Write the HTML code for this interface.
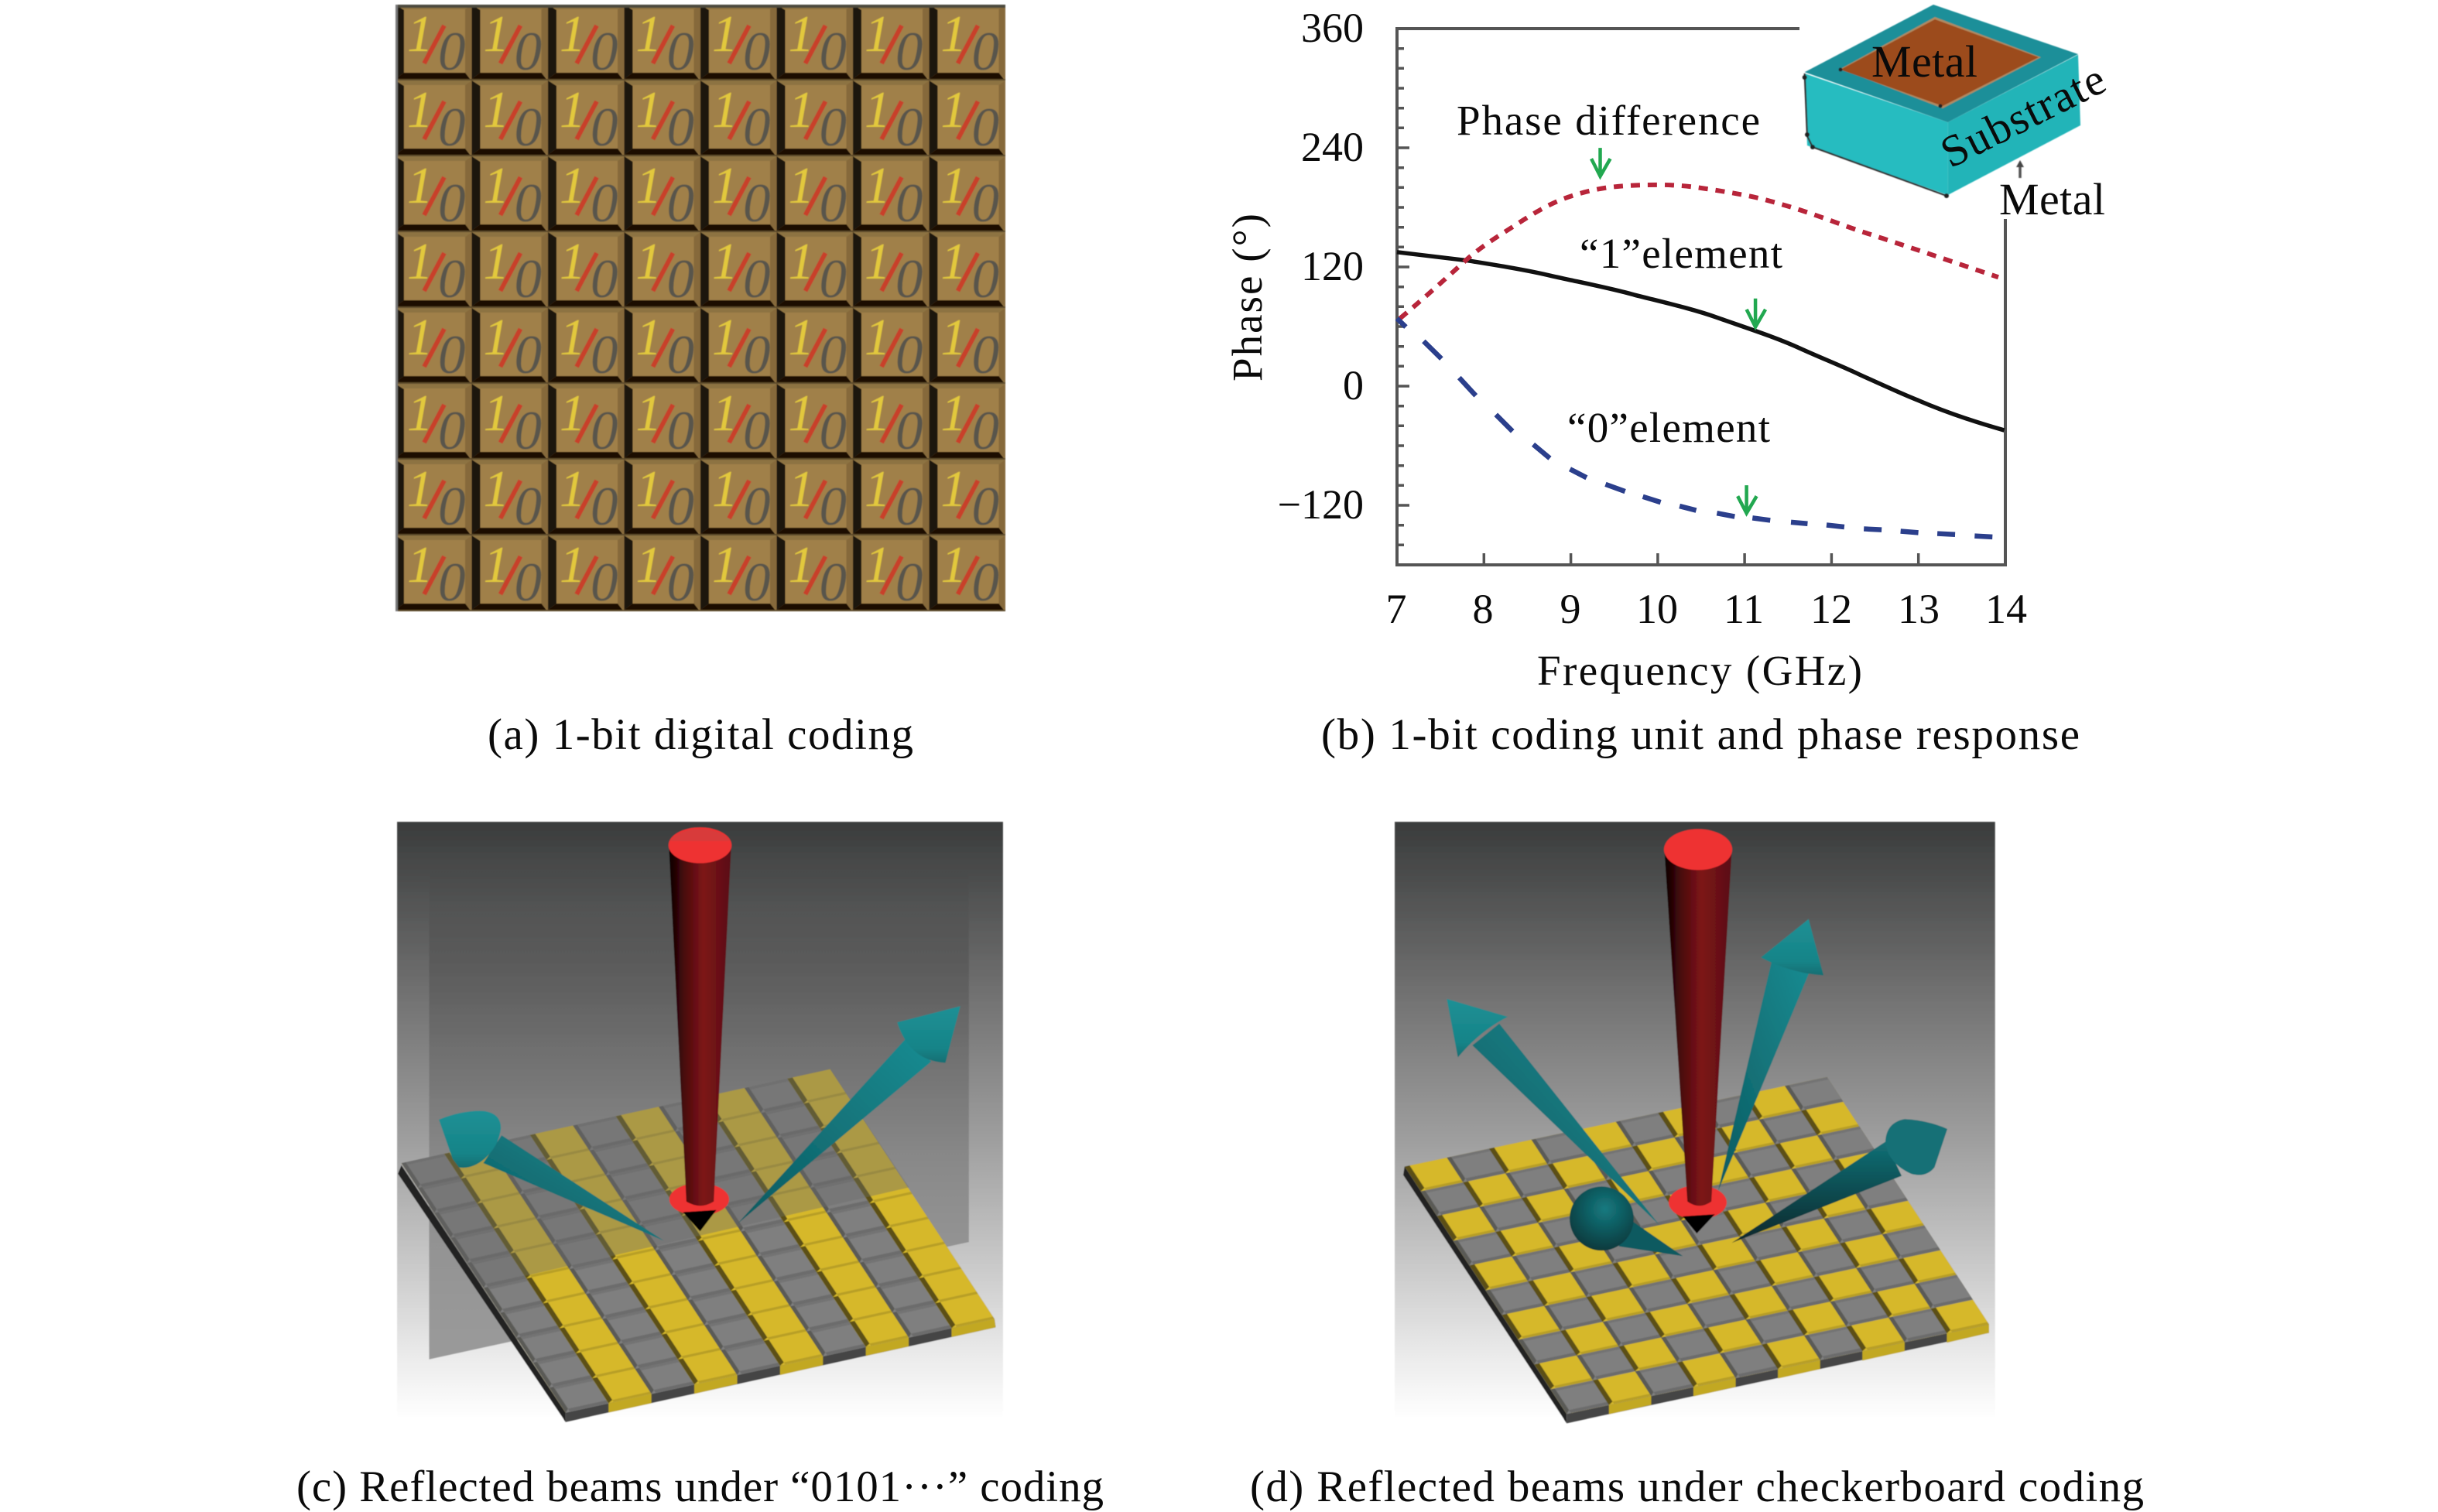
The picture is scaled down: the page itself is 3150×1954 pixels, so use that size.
<!DOCTYPE html>
<html>
<head>
<meta charset="utf-8">
<style>
html,body{margin:0;padding:0;background:#fff;}
svg{display:block;}
text{font-family:"Liberation Serif",serif;fill:#0a0a0a;}
.t{font-size:55px;}
.b{font-size:58px;}
.c{font-size:57px;}
.n{font-size:54px;text-anchor:middle;}
.e{font-size:54px;text-anchor:end;}
.ns{vector-effect:non-scaling-stroke;}
</style>
</head>
<body>
<svg xmlns="http://www.w3.org/2000/svg" width="3150" height="1954" viewBox="0 0 3150 1954">
<defs>
  <pattern id="tile" patternUnits="userSpaceOnUse" x="511" y="6" width="98.5" height="98">
    <rect width="98.5" height="98" fill="#a0804a"/>
    <polygon points="0,0 98.5,0 90,6 11,6" fill="#8d7342"/>
    <polygon points="98.5,0 90,6 90,88 98.5,97" fill="#86693a"/>
    <polygon points="0,0 11,7 11,88 0,96" fill="#1e1408"/>
    <polygon points="0,96 11,88 90,88 98,98 0,98" fill="#1a0f06"/>
    <rect x="0" y="96" width="98.5" height="2" fill="#5c4a2a"/>
    <line x1="63" y1="27" x2="37" y2="76" stroke="#c8402c" stroke-width="6"/>
  </pattern>
  <linearGradient id="bg" gradientUnits="userSpaceOnUse" x1="0" y1="40" x2="0" y2="1440">
    <stop offset="0" stop-color="#3a3c3c"/>
    <stop offset=".26" stop-color="#6c6c6c"/>
    <stop offset=".54" stop-color="#a0a0a0"/>
    <stop offset=".76" stop-color="#cdcdcd"/>
    <stop offset=".91" stop-color="#eeeeee"/>
    <stop offset="1" stop-color="#ffffff"/>
  </linearGradient>
  <linearGradient id="plane" gradientUnits="userSpaceOnUse" x1="0" y1="150" x2="0" y2="1300">
    <stop offset="0" stop-color="#333" stop-opacity="0"/>
    <stop offset=".2" stop-color="#333" stop-opacity=".25"/>
    <stop offset=".58" stop-color="#666" stop-opacity=".45"/>
    <stop offset="1" stop-color="#7a7a7a" stop-opacity=".72"/>
  </linearGradient>
  <linearGradient id="red" x1="0" y1="0" x2="1" y2="0">
    <stop offset="0" stop-color="#080000"/>
    <stop offset=".25" stop-color="#4a0a0c"/>
    <stop offset=".55" stop-color="#7d1418"/>
    <stop offset="1" stop-color="#5a0f12"/>
  </linearGradient>
  <linearGradient id="teal" x1="0" y1="1" x2="1" y2="0">
    <stop offset="0" stop-color="#0c5a60"/>
    <stop offset="1" stop-color="#1a8c92"/>
  </linearGradient>
  <linearGradient id="teal2" x1="0" y1="1" x2="0" y2="0">
    <stop offset="0" stop-color="#06262a"/>
    <stop offset="1" stop-color="#137076"/>
  </linearGradient>
  <linearGradient id="head" x1="0" y1="0" x2="0" y2="1">
    <stop offset="0" stop-color="#1c9095"/>
    <stop offset=".75" stop-color="#188488"/>
    <stop offset="1" stop-color="#136e72"/>
  </linearGradient>
  <radialGradient id="ball" cx=".55" cy=".35" r=".7">
    <stop offset="0" stop-color="#157a80"/>
    <stop offset="1" stop-color="#083538"/>
  </radialGradient>
  <g id="yc">
    <rect width="100" height="100" fill="#d6b82c"/>
    <polygon points="12,0 100,0 100,9 12,9" fill="#b89f28"/>
    <polygon points="0,0 12,9 12,100 0,100" fill="#5c5012"/>
  </g>
  <g id="gc">
    <rect width="100" height="100" fill="#7f7f7f"/>
    <polygon points="10,0 100,0 100,12 10,12" fill="#6c6c6c"/>
    <polygon points="0,0 10,12 10,100 0,100" fill="#5a5a56"/>
    <rect x="10" y="90" width="90" height="10" fill="#737373"/>
  </g>
  <pattern id="stripes" patternUnits="userSpaceOnUse" width="200" height="100" patternTransform="matrix(1.005,-.22,-.385,-.585,455,1425)">
    <use href="#gc"/><use href="#yc" x="100"/>
  </pattern>
  <pattern id="checker" patternUnits="userSpaceOnUse" width="200" height="200" patternTransform="matrix(.99,-.21,-.38,-.58,443,1428)">
    <use href="#gc"/><use href="#yc" x="100"/><use href="#yc" y="100"/><use href="#gc" x="100" y="100"/>
  </pattern>
  <filter id="soft" x="-2%" y="-2%" width="104%" height="104%"><feGaussianBlur stdDeviation="1.1"/></filter>
  <filter id="soft2" x="-2%" y="-2%" width="104%" height="104%"><feGaussianBlur stdDeviation=".6"/></filter>
</defs>

<rect width="3150" height="1954" fill="#fff"/>

<!-- Panel a -->
<g filter="url(#soft2)">
  <rect x="511" y="6" width="788" height="784" fill="url(#tile)"/>
  <rect x="511" y="6" width="788" height="4" fill="#4c4a3c"/>
  <rect x="511" y="6" width="3" height="784" fill="#777"/>
  <g style="font-style:italic;font-size:67px">
    <text style="fill:#e2c83c" x="526 624.5 723 821.5 920 1018.5 1117 1215.5" y="66">11111111</text>
    <text style="fill:#e2c83c" x="526 624.5 723 821.5 920 1018.5 1117 1215.5" y="164">11111111</text>
    <text style="fill:#e2c83c" x="526 624.5 723 821.5 920 1018.5 1117 1215.5" y="262">11111111</text>
    <text style="fill:#e2c83c" x="526 624.5 723 821.5 920 1018.5 1117 1215.5" y="360">11111111</text>
    <text style="fill:#e2c83c" x="526 624.5 723 821.5 920 1018.5 1117 1215.5" y="458">11111111</text>
    <text style="fill:#e2c83c" x="526 624.5 723 821.5 920 1018.5 1117 1215.5" y="556">11111111</text>
    <text style="fill:#e2c83c" x="526 624.5 723 821.5 920 1018.5 1117 1215.5" y="654">11111111</text>
    <text style="fill:#e2c83c" x="526 624.5 723 821.5 920 1018.5 1117 1215.5" y="752">11111111</text>
  </g>
  <g style="font-style:italic;font-size:71px">
    <text style="fill:#58544c" x="566 664.5 763 861.5 960 1058.5 1157 1255.5" y="90">00000000</text>
    <text style="fill:#58544c" x="566 664.5 763 861.5 960 1058.5 1157 1255.5" y="188">00000000</text>
    <text style="fill:#58544c" x="566 664.5 763 861.5 960 1058.5 1157 1255.5" y="286">00000000</text>
    <text style="fill:#58544c" x="566 664.5 763 861.5 960 1058.5 1157 1255.5" y="384">00000000</text>
    <text style="fill:#58544c" x="566 664.5 763 861.5 960 1058.5 1157 1255.5" y="482">00000000</text>
    <text style="fill:#58544c" x="566 664.5 763 861.5 960 1058.5 1157 1255.5" y="580">00000000</text>
    <text style="fill:#58544c" x="566 664.5 763 861.5 960 1058.5 1157 1255.5" y="678">00000000</text>
    <text style="fill:#58544c" x="566 664.5 763 861.5 960 1058.5 1157 1255.5" y="776">00000000</text>
  </g>
</g>

<!-- Panel b: axes -->
<g fill="none" stroke="#555" stroke-width="4">
  <path d="M2325,37 H1805 V730 H2591 V283"/>
  <path stroke-width="3.5" d="M1805,62.7h9M1805,88.3h9M1805,114h9M1805,139.7h9M1805,165.3h9M1805,216.7h9M1805,242.3h9M1805,268h9M1805,293.7h9M1805,319.3h9M1805,370.7h9M1805,396.3h9M1805,422h9M1805,447.7h9M1805,473.3h9M1805,524.7h9M1805,550.3h9M1805,576h9M1805,601.7h9M1805,627.3h9M1805,678.7h9M1805,704.3h9"/>
  <path stroke-width="3.5" d="M1805,191h16M1805,345h16M1805,499h16M1805,653h16M1917.3,730v-15M2029.6,730v-15M2141.9,730v-15M2254.1,730v-15M2366.4,730v-15M2478.7,730v-15"/>
</g>
<!-- curves in zoom coordinates -->
<g transform="translate(1560,0) scale(.7655,.6124)" fill="none">
  <path class="ns" stroke="#111" stroke-width="5.5" d="M320,532 C360,538 400,544 440,550 C490,560 540,570 580,582 C630,596 680,608 720,622 C770,638 820,652 860,670 C910,692 960,712 1000,735 C1035,755 1070,772 1100,790 C1135,810 1170,830 1200,845 C1250,872 1300,892 1345,908"/>
  <path class="ns" stroke="#b8253a" stroke-width="6" stroke-dasharray="12 10" d="M325,672 C365,630 405,585 440,545 C465,518 495,495 520,475 C548,452 575,432 600,420 C625,408 655,399 680,395 C710,391 735,390 760,390 C790,390 815,393 840,398 C868,403 895,409 920,415 C948,423 975,433 1000,443 C1035,457 1068,473 1100,487 C1133,500 1168,515 1200,528 C1245,547 1290,566 1335,585"/>
  <path class="ns" stroke="#2b3f8c" stroke-width="6.5" d="M320,672L335,690M365,720L395,757M425,797L453,835M487,875L515,910M550,938L578,967M612,990L640,1008M672,1022L705,1037M735,1048L765,1060M797,1068L825,1077M860,1083L890,1090M920,1093L950,1098M985,1102L1013,1105M1045,1108L1075,1112M1108,1116L1138,1118M1170,1121L1200,1124M1232,1126L1262,1128M1295,1131L1325,1133"/>
  <path class="ns" stroke="#22a850" stroke-width="4.5" d="M663,312V372M648,335L663,372L680,335M925,630V690M910,653L925,690L942,653M910,1024V1083M895,1047L910,1083L927,1047"/>
</g>

<!-- inset cube -->
<g filter="url(#soft2)">
  <polygon points="2331.7,95 2516.7,158 2516.7,252 2335,188" fill="#27bcc0"/>
  <polygon points="2516.7,158 2685,70.7 2688,162 2516.7,252" fill="#20b4b8"/>
  <polygon points="2331.7,93.3 2498,6 2685,70 2516.7,158" fill="#1f8f99"/>
  <polygon points="2378,89 2500,22 2637,74 2510,140" fill="#b08a60"/>
  <polygon points="2378,90 2500,25 2634,74 2510,137" fill="#9c4c1e"/>
  <path d="M2331.7,95 L2335,176 L2342,190 L2515,253" fill="none" stroke="#333" stroke-width="2.2"/>
  <g fill="#222">
    <circle cx="2331.7" cy="100" r="3"/><circle cx="2335" cy="174" r="3"/><circle cx="2342" cy="190" r="3"/><circle cx="2515" cy="253" r="3"/>
    <circle cx="2378" cy="90" r="2.5"/><circle cx="2507" cy="137" r="2.5"/>
  </g>
  <path d="M2610,230V212" stroke="#555" stroke-width="3.5" fill="none"/>
  <polygon points="2610,207 2605,216 2615,216" fill="#444"/>
</g>

<!-- Plot text -->
<text class="e" x="1762" y="54">360</text>
<text class="e" x="1762" y="208">240</text>
<text class="e" x="1762" y="362">120</text>
<text class="e" x="1762" y="516">0</text>
<text class="e" x="1762" y="670">−120</text>
<text class="n" x="1804" y="805">7</text>
<text class="n" x="1916" y="805">8</text>
<text class="n" x="2029" y="805">9</text>
<text class="n" x="2141" y="805">10</text>
<text class="n" x="2253" y="805">11</text>
<text class="n" x="2366" y="805">12</text>
<text class="n" x="2479" y="805">13</text>
<text class="n" x="2592" y="805">14</text>
<text class="t" x="1882" y="174" textLength="392" lengthAdjust="spacing">Phase difference</text>
<text class="t" x="2041" y="346" textLength="262" lengthAdjust="spacing">“1”element</text>
<text class="t" x="2025" y="571" textLength="262" lengthAdjust="spacing">“0”element</text>
<text class="t" x="1986" y="885" textLength="420" lengthAdjust="spacing">Frequency (GHz)</text>
<text class="t" transform="translate(1630,493) rotate(-90)" textLength="217" lengthAdjust="spacing">Phase (°)</text>
<text class="b" x="2418" y="99" textLength="137" lengthAdjust="spacing">Metal</text>
<text class="b" x="2583" y="277" textLength="137" lengthAdjust="spacing">Metal</text>
<text class="b" transform="translate(2520,218) rotate(-26.6)" textLength="229" lengthAdjust="spacing">Substrate</text>

<!-- Panel c -->
<g transform="translate(480,1040) scale(.5513)" filter="url(#soft)">
  <rect x="60" y="40" width="1420" height="1400" fill="url(#bg)"/>
  <polygon points="135,150 1400,150 1400,1025 135,1300" fill="url(#plane)"/>
  <polygon points="70,845 455,1425 455,1447 62,865" fill="#222"/>
  <polygon points="455,1425 1460,1205 1463,1225 455,1447" fill="#444"/>
  <g fill="#c2a824">
    <polygon points="555.5,1403 656,1381 656,1403 555.5,1425"/>
    <polygon points="756.5,1359 857,1337 857,1358 756.5,1381"/>
    <polygon points="957.5,1315 1058,1293 1058,1314 957.5,1337"/>
    <polygon points="1158.5,1271 1259,1249 1259,1270 1158.5,1292"/>
    <polygon points="1359.5,1227 1460,1205 1463,1225 1359.5,1248"/>
  </g>
  <polygon points="455,1425 1460,1205 1075,620 70,840" fill="url(#stripes)"/>
  <polygon points="258,1128 1260,897 1075,620 70,840" fill="#6b6b6b" opacity=".4"/>
  <!-- red beam -->
  <ellipse cx="768" cy="925" rx="70" ry="38" fill="#ee3333"/>
  <polygon points="730,955 808,950 770,1000" fill="#000"/>
  <path d="M697,95 L843,95 L802,930 Q770,950 738,930 Z" fill="url(#red)"/>
  <ellipse cx="770" cy="95" rx="74" ry="42" fill="#ee3333"/>
  <path d="M700,85 A74,42 0 0 1 840,85 Z" fill="#d83a3a"/>
  <!-- right arrow -->
  <polygon points="858,982 1255,545 1312,602" fill="url(#teal)"/>
  <path d="M1380,472 L1345,605 Q1260,600 1232,510 Z" fill="url(#head)"/>
  <!-- left arrow -->
  <polygon points="685,1022 305,775 262,840" fill="url(#teal)"/>
  <path d="M158,738 Q215,715 265,718 Q305,725 303,760 Q298,800 265,830 Q235,855 205,850 L190,830 Z" fill="url(#head)"/>
</g>

<!-- Panel d -->
<g transform="translate(1780,1040) scale(.5513)" filter="url(#soft)">
  <rect x="40" y="40" width="1407" height="1400" fill="url(#bg)"/>
  <polygon points="63,848 443,1428 443,1450 60,868" fill="#222"/>
  <polygon points="443,1428 1433,1218 1433,1238 443,1450" fill="#444"/>
  <g fill="#c2a824">
    <polygon points="542,1407 641,1386 641,1407 542,1429"/>
    <polygon points="740,1365 839,1344 839,1365 740,1387"/>
    <polygon points="938,1323 1037,1302 1037,1323 938,1345"/>
    <polygon points="1136,1281 1235,1260 1235,1281 1136,1303"/>
    <polygon points="1334,1239 1433,1218 1433,1238 1334,1261"/>
  </g>
  <polygon points="443,1428 1433,1218 1053,638 63,848" fill="url(#checker)"/>
  <!-- up-left arrow -->
  <polygon points="660,985 222,564 285,513" fill="url(#teal)"/>
  <path d="M162,455 L305,497 Q240,530 188,592 Z" fill="url(#head)"/>
  <!-- up-right arrow -->
  <polygon points="798,905 925,360 1015,385" fill="url(#teal)"/>
  <path d="M1010,268 L1045,400 Q970,395 898,358 Z" fill="url(#head)"/>
  <!-- red beam -->
  <ellipse cx="750" cy="932" rx="68" ry="40" fill="#ee3333"/>
  <polygon points="715,965 790,960 748,1005" fill="#000"/>
  <path d="M672,105 L830,105 L782,930 Q754,950 726,930 Z" fill="url(#red)"/>
  <ellipse cx="751" cy="105" rx="80" ry="48" fill="#ee3333"/>
  <!-- ball arrow -->
  <polygon points="715,1058 595,975 565,1035" fill="#0c5a60"/>
  <circle cx="525" cy="970" r="75" fill="url(#ball)"/>
  <!-- right arrow -->
  <polygon points="830,1027 1190,790 1228,870" fill="url(#teal2)"/>
  <path d="M1335,760 Q1290,740 1235,737 Q1192,745 1190,790 Q1195,840 1250,865 Q1285,875 1305,850 Z" fill="#137076"/>
</g>

<!-- Captions -->
<text class="c" x="630" y="968" textLength="550" lengthAdjust="spacing">(a) 1-bit digital coding</text>
<text class="c" x="1707" y="968" textLength="980" lengthAdjust="spacing">(b) 1-bit coding unit and phase response</text>
<text class="c" x="383" y="1940" textLength="1043" lengthAdjust="spacing">(c) Reflected beams under “0101···” coding</text>
<text class="c" x="1615" y="1940" textLength="1155" lengthAdjust="spacing">(d) Reflected beams under checkerboard coding</text>
</svg>
</body>
</html>
